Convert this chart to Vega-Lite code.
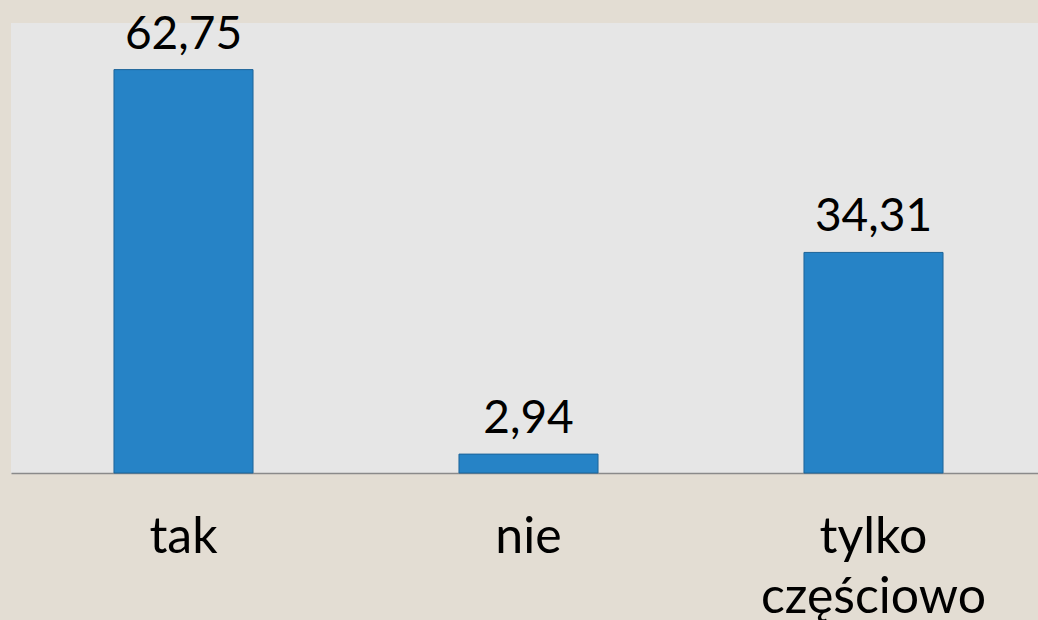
{
  "$schema": "https://vega.github.io/schema/vega-lite/v6.json",
  "width": 1035,
  "height": 450,
  "autosize": {"type": "none"},
  "padding": {"left": 11, "top": 23, "right": 0, "bottom": 147},
  "background": "#e3ddd3",
  "config": {
    "view": {"fill": "#e6e6e6", "stroke": null},
    "font": "Lato"
  },
  "data": {
    "values": [
      {"kategoria": "tak", "wartosc": 62.75, "etykieta": "62,75"},
      {"kategoria": "nie", "wartosc": 2.94, "etykieta": "2,94"},
      {"kategoria": "tylko częściowo", "wartosc": 34.31, "etykieta": "34,31"}
    ]
  },
  "encoding": {
    "x": {
      "field": "kategoria",
      "type": "nominal",
      "sort": null,
      "scale": {"paddingInner": 0.597, "paddingOuter": 0.2985},
      "axis": {
        "title": null,
        "domainColor": "#8a8a8a",
        "domainWidth": 1.5,
        "ticks": false,
        "labelAngle": 0,
        "labelFont": "Lato",
        "labelFontSize": 50,
        "labelColor": "#000000",
        "labelBaseline": "alphabetic",
        "labelPadding": 79,
        "labelLineHeight": 60,
        "labelLimit": 0,
        "labelExpr": "datum.label == 'tylko częściowo' ? ['tylko', 'częściowo'] : datum.label"
      }
    },
    "y": {
      "field": "wartosc",
      "type": "quantitative",
      "scale": {"domain": [0, 70]},
      "axis": null
    }
  },
  "layer": [
    {
      "mark": {"type": "bar", "color": "#2683c6", "stroke": "#1d6499", "strokeWidth": 1}
    },
    {
      "mark": {"type": "text", "baseline": "alphabetic", "dy": -21, "fontSize": 46, "font": "Lato", "color": "#000000"},
      "encoding": {"text": {"field": "etykieta"}}
    }
  ]
}
